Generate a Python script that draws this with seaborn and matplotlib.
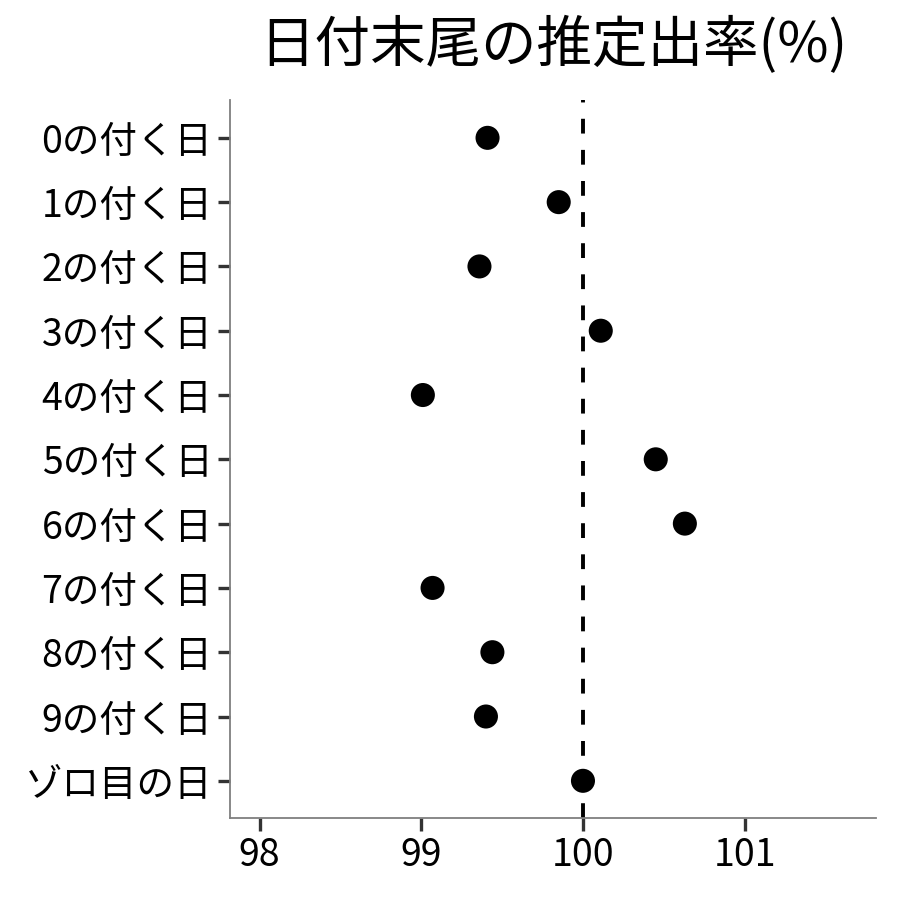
import numpy as np
import pandas as pd
import matplotlib
matplotlib.use('Agg')
import matplotlib.pyplot as plt
import seaborn as sns

# データ
categories = ['0の付く日', '1の付く日', '2の付く日', '3の付く日', '4の付く日',
              '5の付く日', '6の付く日', '7の付く日', '8の付く日', '9の付く日',
              'ゾロ目の日']
rates = [99.41, 99.85, 99.36, 100.11, 99.01,
         100.45, 100.63, 99.07, 99.44, 99.40, 100.00]
x_ticks = [98, 99, 100, 101]
title = '日付末尾の推定出率(%)'

df = pd.DataFrame({'label': categories, 'rate': rates})

sns.set_style('white')
plt.rcParams['font.family'] = ['Noto Sans CJK JP', 'DejaVu Sans']

fig, ax = plt.subplots(figsize=(9, 9), dpi=100)
fig.subplots_adjust(left=0.256, right=0.973, top=0.889, bottom=0.091)

ax.axvline(100, color='black', linestyle=(0, (3.8, 4.2)), linewidth=2.8, zorder=1)
sns.scatterplot(data=df, x='rate', y='label', color='black', s=300,
                edgecolor='none', ax=ax, zorder=3)

ax.set_xlim(97.82, 101.81)
ax.set_ylim(10.58, -0.59)
ax.set_xticks(x_ticks)
ax.set_xlabel('')
ax.set_ylabel('')
ax.set_title(title, fontsize=40, pad=27, x=0.5, color='black')

for side in ['top', 'right']:
    ax.spines[side].set_visible(False)
for side in ['left', 'bottom']:
    ax.spines[side].set_color('#7f7f7f')
    ax.spines[side].set_linewidth(1.3)

ax.tick_params(axis='both', length=9, width=2.4, color='#333333',
               labelsize=27, labelcolor='black', pad=4, direction='out',
               left=True, bottom=True)

fig.savefig('out.png', dpi=100)
